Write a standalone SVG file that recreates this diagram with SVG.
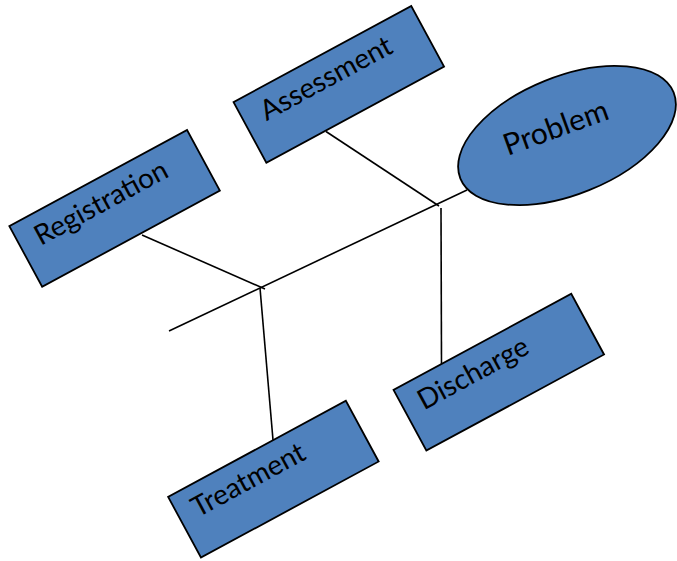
<svg xmlns="http://www.w3.org/2000/svg" width="677" height="561" viewBox="0 0 677 561">
  <style>
    .box { fill: #4f81bd; stroke: #000; stroke-width: 1.8; }
    .lbl { font-family: Lato, "Liberation Sans", sans-serif; font-size: 28px; fill: #000; }
    .big { font-size: 30px; }
    .bone { fill: none; stroke: #000; stroke-width: 1.6; stroke-linecap: butt; }
  </style>

  <!-- fishbone lines -->
  <g id="connectors">
    <line class="bone" x1="169" y1="331" x2="467" y2="190"/>
    <line class="bone" x1="142" y1="235" x2="265" y2="289"/>
    <line class="bone" x1="260" y1="288" x2="273" y2="440"/>
    <line class="bone" x1="326" y1="131.5" x2="439" y2="206"/>
    <line class="bone" x1="441" y1="208" x2="441.5" y2="364"/>
  </g>

  <g id="problem">
    <ellipse class="box" cx="567" cy="135.5" rx="115" ry="59" transform="rotate(-22 567 135.5)"/>
    <text class="lbl big" text-anchor="middle" transform="translate(567 135.5) rotate(-20)" x="-8" y="-1">Problem</text>
  </g>

  <g id="registration" transform="translate(114.6 208.4) rotate(-28.4)">
    <rect class="box" x="-101" y="-34.5" width="202" height="69"/>
    <text class="lbl" x="-83" y="-2">Registration</text>
  </g>

  <g id="assessment" transform="translate(338.8 84.4) rotate(-28.4)">
    <rect class="box" x="-101" y="-34.5" width="202" height="69"/>
    <text class="lbl" x="-81" y="-2">Assessment</text>
  </g>

  <g id="treatment" transform="translate(273.4 479.2) rotate(-28.4)">
    <rect class="box" x="-101" y="-34.5" width="202" height="69"/>
    <text class="lbl" x="-85" y="-2">Treatment</text>
  </g>

  <g id="discharge" transform="translate(498.8 372.2) rotate(-28.4)">
    <rect class="box" x="-101" y="-34.5" width="202" height="69"/>
    <text class="lbl" x="-84" y="-2">Discharge</text>
  </g>
</svg>
